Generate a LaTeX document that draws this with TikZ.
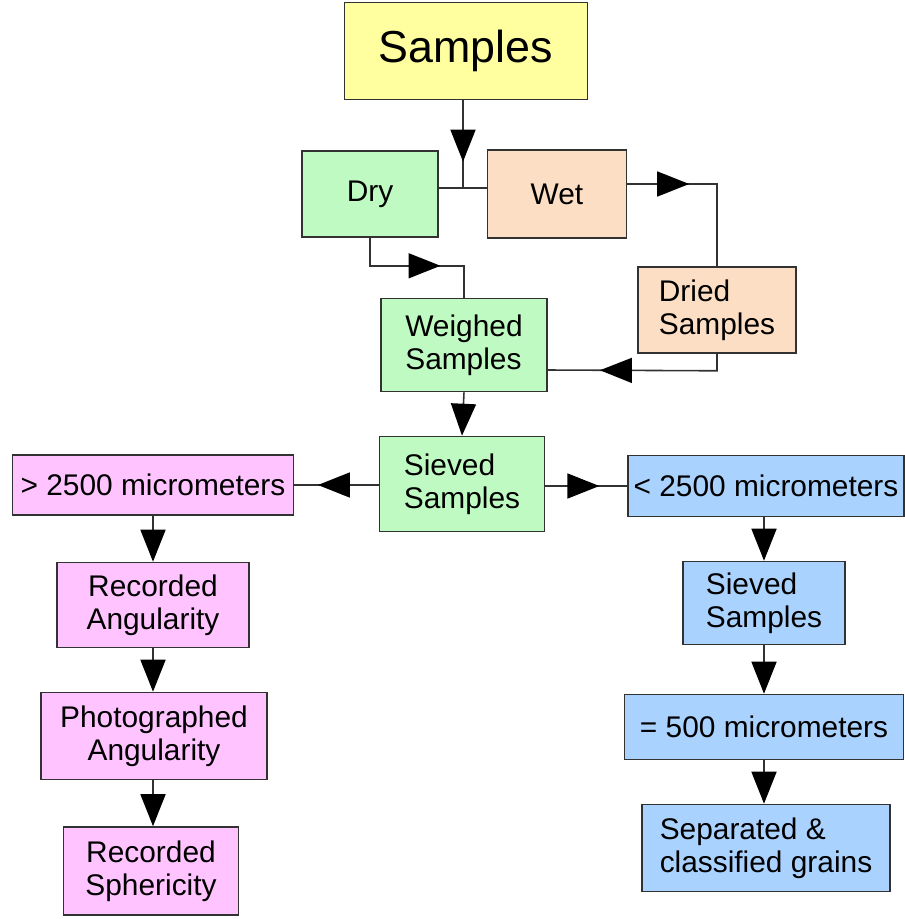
\documentclass[tikz,border=0pt]{standalone}
\usepackage{fontspec}
\setmainfont{Liberation Sans}
\usetikzlibrary{positioning,arrows.meta,decorations.markings}
\definecolor{yellowbox}{RGB}{255,255,160}
\definecolor{greenbox}{RGB}{190,250,194}
\definecolor{peachbox}{RGB}{252,222,196}
\definecolor{pinkbox}{RGB}{255,196,255}
\definecolor{bluebox}{RGB}{170,210,255}
\definecolor{linec}{RGB}{50,50,50}

\begin{document}
\begin{tikzpicture}[x=0.02cm,y=-0.02cm,
        >={Triangle[length=0.64cm,width=0.5cm,color=black]},
        box/.style={draw=linec,line width=0.9pt,inner sep=0pt,
            font=\fontsize{17}{19}\selectfont},
        sz/.style 2 args={minimum width=#1*0.02cm,minimum height=#2*0.02cm},
        conn/.style={draw=linec,line width=0.9pt},
        midarrow/.style={postaction={decorate,decoration={markings,
            mark=at position #1 with {\arrow{>}}}}}]
    \useasboundingbox (0,0) rectangle (904,919);

    % top part
    \node [box,sz={243}{97},fill=yellowbox,font=\fontsize{25.5}{28}\selectfont] (samples) at (466,51) {Samples};
    \node [box,sz={136}{86},fill=greenbox] (dry) at (370,194) {Dry};
    \node [box,sz={139}{88},fill=peachbox] (wet) at (557,194) {Wet};
    \node [box,sz={158}{86},fill=peachbox,align=left] (dried) at (717,310) {Dried\\Samples};
    \node [box,sz={166}{93},fill=greenbox,align=left] (weighed) at (464,345) {Weighed\\Samples};
    \node [box,sz={165}{95},fill=greenbox,align=left] (sieved) at (462,484) {Sieved\\Samples};

    % left branch
    \node [box,sz={281}{60},fill=pinkbox] (coarse) at (153,485) {> 2500 micrometers};
    \node [box,sz={192}{85},fill=pinkbox,align=center] (recang) at (153,605) {Recorded\\Angularity};
    \node [box,sz={226}{87},fill=pinkbox,align=center] (photang) at (154,736) {Photographed\\Angularity};
    \node [box,sz={175}{88},fill=pinkbox,align=center] (recsph) at (151,871) {Recorded\\Sphericity};

    % right branch
    \node [box,sz={276}{61},fill=bluebox] (fine) at (766,486) {< 2500 micrometers};
    \node [box,sz={162}{83},fill=bluebox,align=left] (sieved2) at (764,603) {Sieved\\Samples};
    \node [box,sz={279}{65},fill=bluebox] (fivehundred) at (764,727) {= 500 micrometers};
    \node [box,sz={248}{87},fill=bluebox,align=left] (grains) at (766,848) {Separated \&\\classified grains};

    % connectors
    \coordinate (split) at (463,188);
    \draw [conn] (dry.east |- split) -- (wet.west |- split);
    \draw [conn,midarrow=0.70] (samples.south -| split) -- (split);
    \draw [conn,midarrow=0.36] (wet.east |- 0,184) -| (dried.north);
    \draw [conn,midarrow=0.64] (dry.south) -- ++(0,28) -| (weighed.north);
    \draw [conn,midarrow=0.72] (dried.south) -- ++(0,17) -- (weighed.east |- 0,370);
    \draw [conn,->] (weighed.south) -- (sieved.north);
    \draw [conn,midarrow=0.72] (sieved.west |- coarse.east) -- (coarse.east);
    \draw [conn,midarrow=0.66] (sieved.east |- fine.west) -- (fine.west);

    \draw [conn,->] (coarse.south -| recang.north) -- (recang.north);
    \draw [conn,->] (recang.south) -- (recang.south |- photang.north);
    \draw [conn,->] (photang.south -| recang.south) -- (recang.south |- recsph.north);

    \draw [conn,->] (fine.south -| sieved2.north) -- (sieved2.north);
    \draw [conn,->] (sieved2.south) -- (sieved2.south |- fivehundred.north);
    \draw [conn,->] (fivehundred.south -| sieved2.south) -- (sieved2.south |- grains.north);
\end{tikzpicture}
\end{document}
